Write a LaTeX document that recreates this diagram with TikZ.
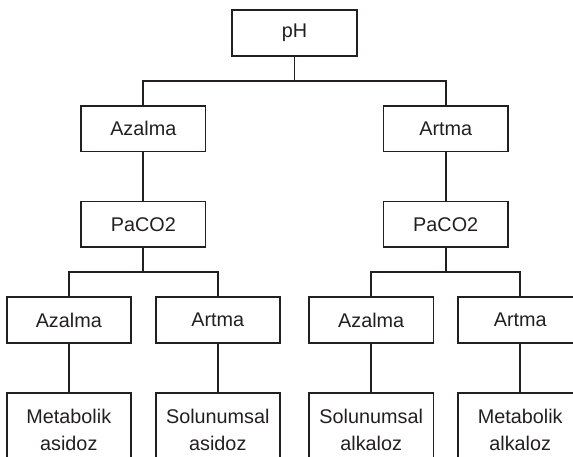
\documentclass[tikz,border=0pt]{standalone}
\usepackage{fontspec}
\setmainfont{Liberation Sans}
\usetikzlibrary{positioning,calc}
\definecolor{ink}{RGB}{35,31,32}
\tikzset{
  every picture/.append style={line width=1.8pt},
}
\begin{document}
\begin{tikzpicture}[
  node distance=48.3pt and 25pt,
  every node/.style={font=\fontsize{19.8}{26.5}\selectfont, text=ink},
  box/.style={draw=ink, rectangle, minimum width=124.4pt, minimum height=45.7pt, inner sep=2pt, align=center},
  leaf/.style={box, minimum height=74pt},
  tree/.style={draw=ink, line width=1.8pt}
]
% page frame (the original is cut at the right and bottom)
\useasboundingbox (0,0) rectangle (573pt,-457pt);

% root and first split
\node[box] (ph) at (294.5pt,-32.8pt) {pH};
\node[box, below left=of ph] (aza) {Azalma};
\node[box, below right=of ph] (art) {Artma};

% PaCO2 checks
\node[box, below=of aza] (pacoa) {PaCO2};
\node[box, below=of art] (pacob) {PaCO2};

% second split - left side
\node[box, below=of pacoa, xshift=-74.5pt] (azaa) {Azalma};
\node[box, below=of pacoa, xshift=74.5pt] (arta) {Artma};
% second split - right side
\node[box, below=of pacob, xshift=-74.5pt] (azab) {Azalma};
\node[box, below=of pacob, xshift=74.5pt] (artb) {Artma};

% results
\node[leaf, below=of azaa] (metasi) {Metabolik\\asidoz};
\node[leaf, below=of arta] (solasi) {Solunumsal\\asidoz};
\node[leaf, below=of azab] (solalk) {Solunumsal\\alkaloz};
\node[leaf, below=of artb] (metalk) {Metabolik\\alkaloz};

% junction points of the tree
\coordinate (jph) at ($(ph.south)!0.5!(ph.south|-aza.north)$);
\coordinate (jpa) at ($(pacoa.south)!0.5!(pacoa.south|-azaa.north)$);
\coordinate (jpb) at ($(pacob.south)!0.5!(pacob.south|-azab.north)$);

% connectors
\draw[tree] (ph) -- (jph);
\draw[tree] (aza) |- (jph) -| (art);
\draw[tree] (aza) -- (pacoa);
\draw[tree] (art) -- (pacob);
\draw[tree] (pacoa) -- (jpa);
\draw[tree] (azaa) |- (jpa) -| (arta);
\draw[tree] (pacob) -- (jpb);
\draw[tree] (azab) |- (jpb) -| (artb);
\draw[tree] (azaa) -- (metasi);
\draw[tree] (arta) -- (solasi);
\draw[tree] (azab) -- (solalk);
\draw[tree] (artb) -- (metalk);

\end{tikzpicture}
\end{document}
